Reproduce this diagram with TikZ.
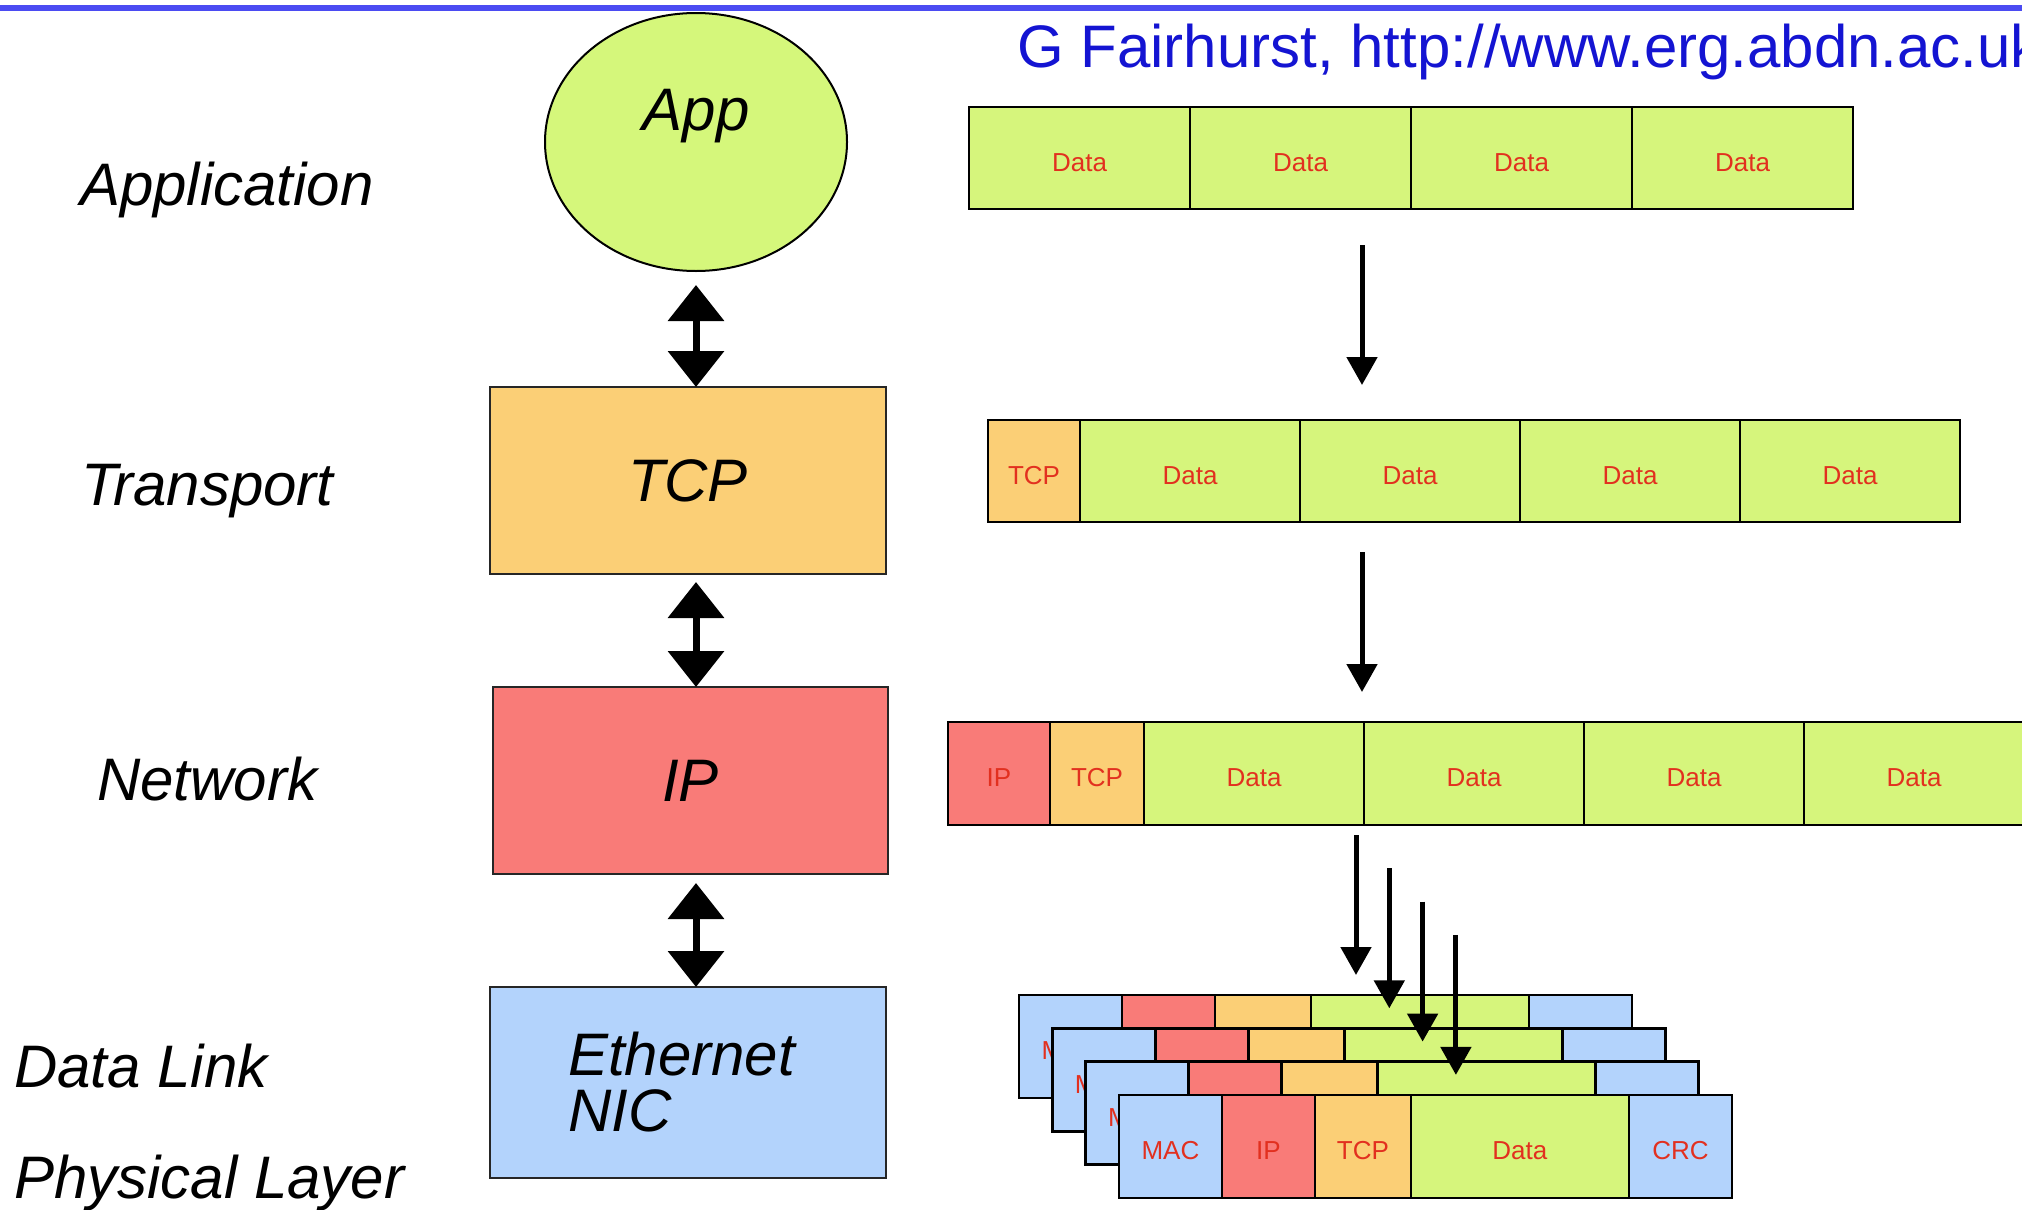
\documentclass[tikz,border=0pt]{standalone}
\usepackage{fontspec}
\setmainfont{Liberation Sans}
\usetikzlibrary{arrows.meta,shapes.geometric}

\definecolor{appgreen}{HTML}{D5F77B}
\definecolor{datagreen}{HTML}{D6F57C}
\definecolor{tcporange}{HTML}{FBCF76}
\definecolor{ipred}{HTML}{F97B78}
\definecolor{macblue}{HTML}{B3D3FC}
\definecolor{celltext}{HTML}{E2301F}
\definecolor{hdrblue}{HTML}{1414D2}
\definecolor{rulecol}{HTML}{4B4BF2}

\tikzset{
  bigfont/.style={font=\fontsize{60}{56}\selectfont\itshape},
  layerlabel/.style={bigfont, anchor=base west, inner sep=0},
  layerbox/.style={draw=black!85, line width=2.5pt, bigfont, inner sep=0, outer sep=0},
  cell/.style={draw=black, line width=2.5pt, minimum height=102pt, inner sep=0, outer sep=0,
    text height=26.6pt, text depth=0pt,
    text=celltext, font=\fontsize{26}{26}\selectfont, anchor=north west},
  updown/.style={line width=7pt,
    {Triangle[width=55pt,length=36pt]}-{Triangle[width=55pt,length=36pt]}},
  downarrow/.style={line width=5pt, -{Triangle[width=30pt,length=28pt]}},
}

\begin{document}
\begin{tikzpicture}[x=1pt,y=-1pt]
\path[use as bounding box] (0,0) rectangle (2022,1210);
\clip (0,0) rectangle (2022,1210);

% header rule and credit
\draw[rulecol, line width=6pt] (-10,8) -- (2032,8);
\node[anchor=base west, inner sep=0, text=hdrblue, font=\fontsize{60}{60}\selectfont]
  (credit) at (1017,67) {G Fairhurst, http://www.erg.abdn.ac.uk};

% layer names
\node[layerlabel] (lapp) at (80,205) {Application};
\node[layerlabel] (ltra) at (81,505) {Transport};
\node[layerlabel] (lnet) at (97,800) {Network};
\node[layerlabel] (ldl)  at (14,1087) {Data Link};
\node[layerlabel] (lphy) at (14,1198) {Physical Layer};

% protocol stack
\node[ellipse, draw=black, line width=2pt, fill=appgreen, minimum width=302pt,
  minimum height=258pt, inner sep=0, outer sep=0] (app) at (696,142) {};
\node[bigfont, anchor=base, inner sep=0] (apptext) at (696,130) {App};
\node[layerbox, fill=tcporange, minimum width=396pt, minimum height=187pt]
  (tcp) at (688,480.5) {TCP};
\node[layerbox, fill=ipred, minimum width=395pt, minimum height=187pt]
  (ip) at (690.5,780.5) {IP};
\node[layerbox, fill=macblue, minimum width=396pt, minimum height=191pt,
  text width=240pt, align=left, inner xsep=78pt] (eth) at (688,1082.5) {Ethernet\\NIC};

\draw[updown, shorten <=14pt] (app.south) -- (app.south |- tcp.north);
\draw[updown, shorten <=8pt] (app.south |- tcp.south) -- (app.south |- ip.north);
\draw[updown, shorten <=9pt] (app.south |- ip.south) -- (app.south |- eth.north);

% application data
\node[cell, fill=datagreen, minimum width=221pt] (r1d1) at (969,107) {Data};
\node[cell, fill=datagreen, minimum width=221pt] (r1d2) at (r1d1.north east) {Data};
\node[cell, fill=datagreen, minimum width=221pt] (r1d3) at (r1d2.north east) {Data};
\node[cell, fill=datagreen, minimum width=221pt] (r1d4) at (r1d3.north east) {Data};

% TCP segment
\node[cell, fill=tcporange, minimum width=92pt] (r2tcp) at (988,420) {TCP};
\node[cell, fill=datagreen, minimum width=220pt] (r2d1) at (r2tcp.north east) {Data};
\node[cell, fill=datagreen, minimum width=220pt] (r2d2) at (r2d1.north east) {Data};
\node[cell, fill=datagreen, minimum width=220pt] (r2d3) at (r2d2.north east) {Data};
\node[cell, fill=datagreen, minimum width=220pt] (r2d4) at (r2d3.north east) {Data};

% IP packet
\node[cell, fill=ipred, minimum width=102pt, minimum height=103pt] (r3ip) at (948,722) {IP};
\node[cell, fill=tcporange, minimum width=94pt, minimum height=103pt] (r3tcp) at (r3ip.north east) {TCP};
\node[cell, fill=datagreen, minimum width=220pt, minimum height=103pt] (r3d1) at (r3tcp.north east) {Data};
\node[cell, fill=datagreen, minimum width=220pt, minimum height=103pt] (r3d2) at (r3d1.north east) {Data};
\node[cell, fill=datagreen, minimum width=220pt, minimum height=103pt] (r3d3) at (r3d2.north east) {Data};
\node[cell, fill=datagreen, minimum width=220pt, minimum height=103pt] (r3d4) at (r3d3.north east) {Data};

\coordinate (ax) at (1362,0);
\draw[downarrow, shorten <=36pt, shorten >=35pt] (r1d2.south -| ax) -- (r2d2.north -| ax);
\draw[downarrow, shorten <=30pt, shorten >=30pt] (r2d2.south -| ax) -- (r3d1.north -| ax);

% Ethernet frames, back to front
\foreach \k in {0,...,3} {
  \pgfmathsetmacro\fx{1019+33.3*\k}
  \pgfmathsetmacro\fy{995+33.3*\k}
  \node[cell, fill=macblue, minimum width=103pt, minimum height=103pt] (f\k-mac) at (\fx,\fy) {MAC};
  \node[cell, fill=ipred, minimum width=93pt, minimum height=103pt] (f\k-ip) at (f\k-mac.north east) {IP};
  \node[cell, fill=tcporange, minimum width=96pt, minimum height=103pt] (f\k-tcp) at (f\k-ip.north east) {TCP};
  \node[cell, fill=datagreen, minimum width=218pt, minimum height=103pt] (f\k-data) at (f\k-tcp.north east) {Data};
  \node[cell, fill=macblue, minimum width=103pt, minimum height=103pt] (f\k-crc) at (f\k-data.north east) {CRC};
}

% one arrow per frame
\foreach \k in {0,...,3} {
  \coordinate (s\k) at (1356+33.3*\k, 835+33.3*\k);
  \draw[downarrow, shorten >=20pt] (s\k) -- (f\k-data.north -| s\k);
}
\end{tikzpicture}
\end{document}
